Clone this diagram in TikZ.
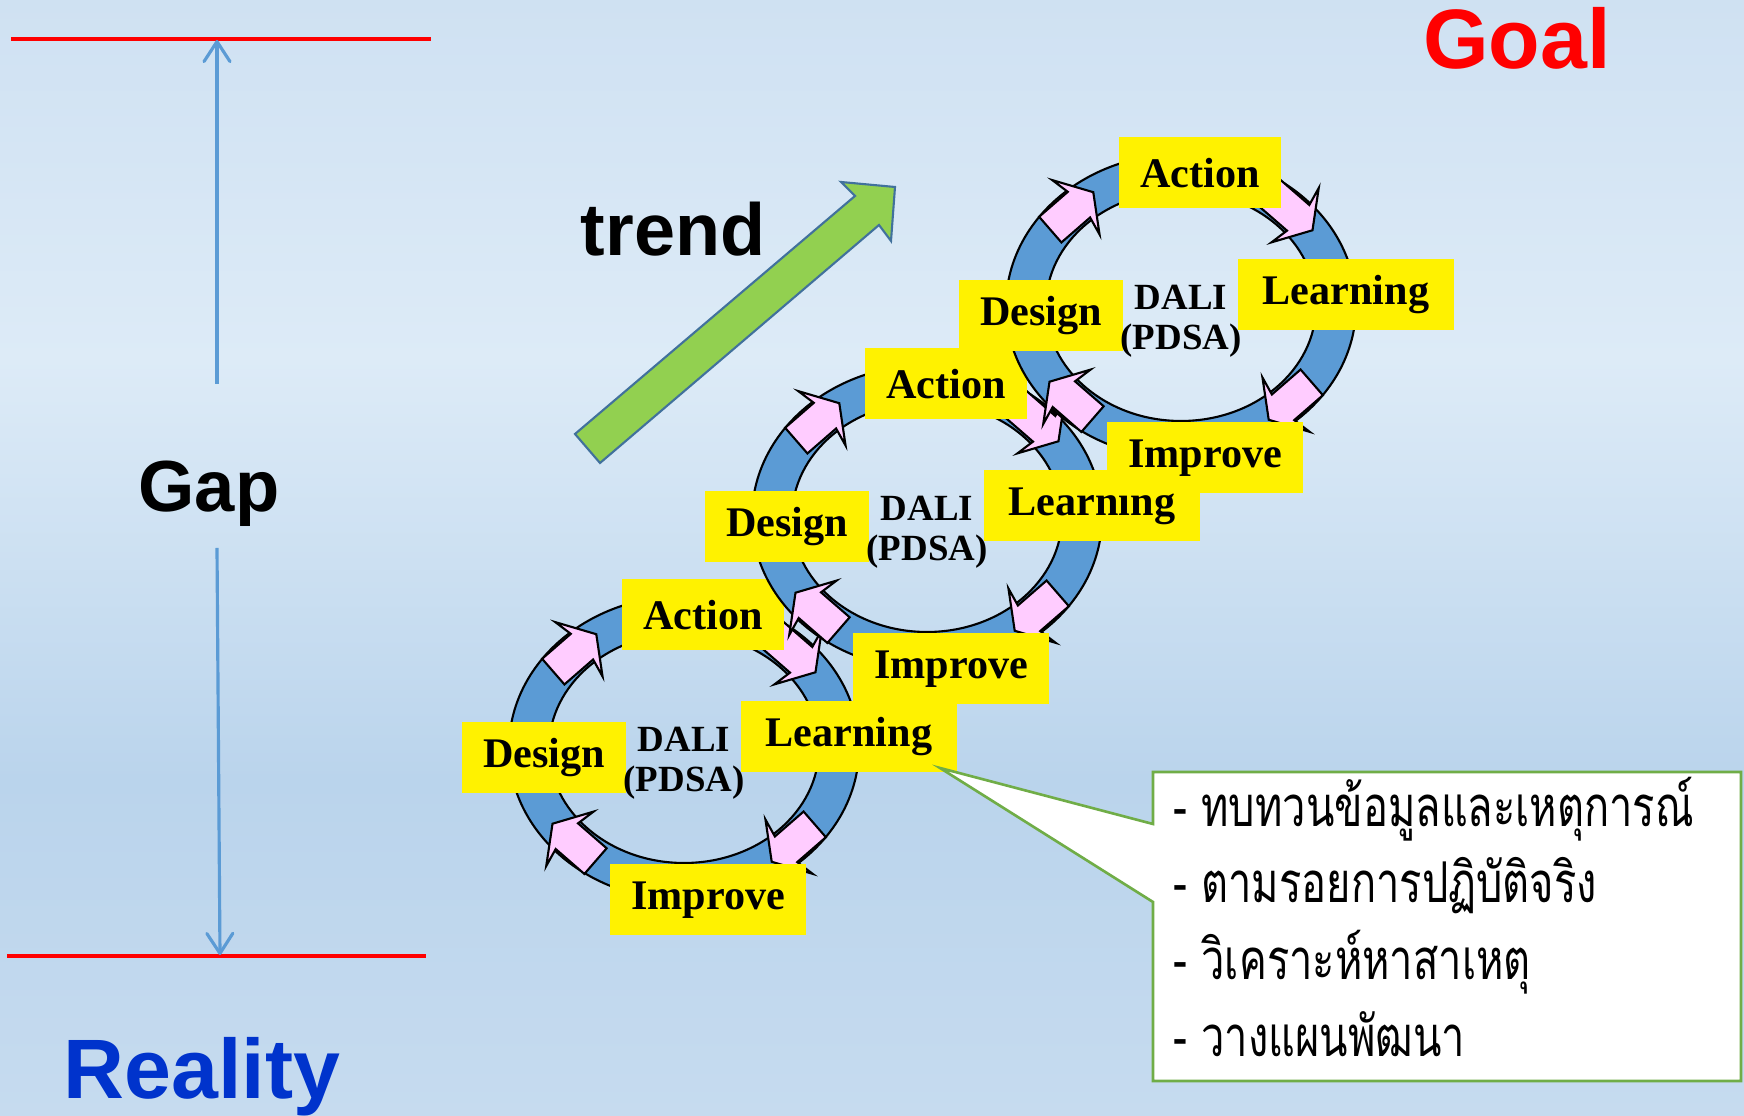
\documentclass[tikz,border=0pt]{standalone}
\usepackage{fontspec}
\setmainfont{Liberation Serif}
\newfontfamily\arialf{Liberation Sans}
\newfontfamily\thaifont[Script=Thai,FakeStretch=0.74]{Loma}
\usetikzlibrary{arrows.meta}
\definecolor{ringblue}{HTML}{5B9BD5}
\definecolor{pinkfill}{HTML}{FFCCFF}
\definecolor{trendgreen}{HTML}{92D050}
\definecolor{trendedge}{HTML}{41719C}
\definecolor{callgreen}{HTML}{70AD47}
\definecolor{realblue}{HTML}{0033CC}
\definecolor{bgtop}{HTML}{CFE1F2}
\definecolor{bglight}{HTML}{DDEBF7}
\definecolor{bgdark}{HTML}{BAD4EC}
\definecolor{bgbot}{HTML}{C6DBEF}

\begin{document}
\begin{tikzpicture}[x=0.1mm,y=0.1mm,
  lbl/.style={fill=yellow,font=\bfseries\fontsize{12}{14}\selectfont,minimum height=7.1mm,inner xsep=2.1mm},
  dali/.style={font=\bfseries\fontsize{10.5}{11.5}\selectfont,align=center,inner sep=0pt},
  ring/.style={fill=ringblue,draw=black,line width=0.6pt,even odd rule},
  pinkarr/.style={fill=pinkfill,draw=black,line width=0.6pt},
  bigword/.style={font=\arialf\bfseries\fontsize{24}{28}\selectfont,anchor=base,inner sep=0pt},
  gaparrow/.style={draw=ringblue,line width=0.9pt,-{Straight Barb[length=2mm,width=2.6mm,round]}},
  redline/.style={draw=red,line width=1.4pt},
  thai/.style={font=\thaifont\fontsize{16}{20}\selectfont,anchor=base west,inner sep=0pt}]
	\useasboundingbox (0,0) rectangle (1744,1116);
	% background
	\fill[top color=bgtop,bottom color=bglight] (0,1116) rectangle (1744,756);
	\fill[top color=bglight,bottom color=bgdark] (0,757) rectangle (1744,336);
	\fill[top color=bgdark,bottom color=bgbot] (0,337) rectangle (1744,0);

	% goal / reality
	\draw[redline] (11,1077) -- (431,1077);
	\draw[redline] (7,160) -- (426,160);
	\node[bigword,text=red] (goal) at (1517,1047) {Goal};
	\node[bigword,text=realblue] (reality) at (202,17) {Reality};
	\node[bigword,font=\arialf\bfseries\fontsize{20.6}{24}\selectfont] (gap) at (209,604) {Gap};
	\coordinate (goalpt) at (217,1076);
	\coordinate (gapup) at (217,732);
	\coordinate (gapdn) at (217,568);
	\coordinate (realpt) at (220,161);
	\draw[gaparrow] (gapup) -- (goalpt);
	\draw[gaparrow] (gapdn) -- (realpt);

	% trend
	\node[bigword,font=\arialf\bfseries\fontsize{21}{24}\selectfont] (trend) at (673,860) {trend};
	\draw[fill=trendgreen,draw=trendedge,line width=0.6pt]
		(575,682) -- (855,920) -- (841,934) -- (895,929) -- (891,875) -- (879,891) -- (600,653) -- cycle;

	% the three DALI cycles
	\foreach \n/\cx/\cy in {1/684/368,2/927/599,3/1181/810} {
		\begin{scope}[shift={(\cx,\cy)}]
			\path[ring] (0,0) ellipse [x radius=17.5mm,y radius=15.2mm]
				(0,0) ellipse [x radius=13.5mm,y radius=11.5mm];
			\foreach \t/\r in {135/41,45/-41,-45/-139,225/139}
				\draw[pinkarr,shift={(\t:15.5mm and 13.4mm)},rotate=\r]
					(-28,-17) -- (10,-17) -- (6,-36) -- (29,0) -- (6,36) -- (10,17) -- (-28,17) -- cycle;
			\node[lbl] (a\n) at (19,133) {Action};
			\node[lbl] (d\n) at (-140,-10) {Design};
			\node[lbl,inner xsep=2.5mm] (l\n) at (165,11) {Learning};
			\node[lbl] (i\n) at (24,-152) {Improve};
			\node[dali] (c\n) at (0,-15) {DALI\\(PDSA)};
		\end{scope}
	}

	% callout
	\coordinate (tip) at (940,348);
	\draw[fill=white,draw=callgreen,line width=0.75pt]
		(1153,344) -- (1741,344) -- (1741,35) -- (1153,35) -- (1153,214) -- (tip) -- (1153,292) -- cycle;
	\node[thai] (t1) at (1173,289) {- ทบทวนข้อมูลและเหตุการณ์};
	\node[thai] (t2) at (1173,213) {- ตามรอยการปฏิบัติจริง};
	\node[thai] (t3) at (1173,136) {- วิเคราะห์หาสาเหตุ};
	\node[thai] (t4) at (1173,59) {- วางแผนพัฒนา};
\end{tikzpicture}
\end{document}
